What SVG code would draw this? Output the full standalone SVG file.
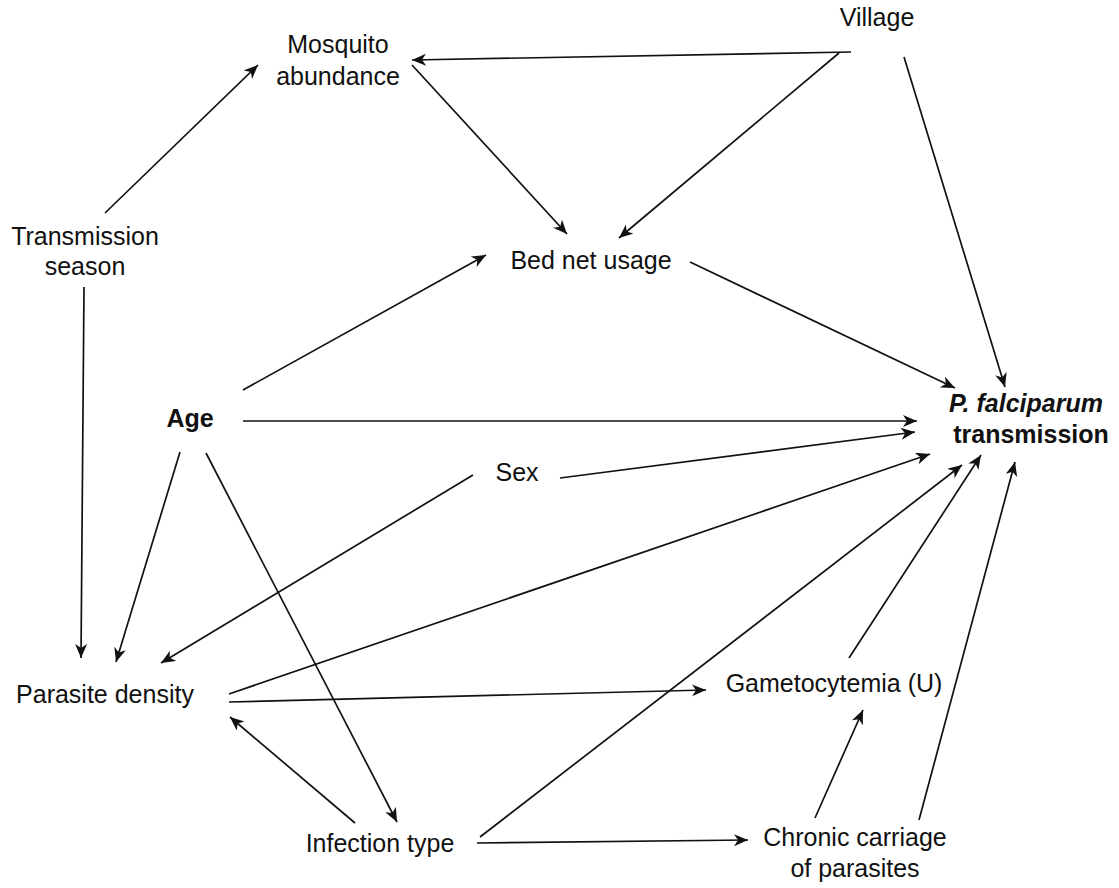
<svg xmlns="http://www.w3.org/2000/svg" width="1119" height="888" viewBox="0 0 1119 888">
  <style>
    .lbl { font-family: "Liberation Sans", Arial, Helvetica, sans-serif; font-size: 25px; fill: #111; text-anchor: middle; }
    .bold { font-weight: bold; }
    .ital { font-style: italic; }
    .edge { stroke: #111; stroke-width: 1.7; fill: none; marker-end: url(#arrow); }
  </style>
  <defs>
    <marker id="arrow" markerUnits="userSpaceOnUse" markerWidth="16" markerHeight="14" refX="14" refY="6" orient="auto">
      <path d="M0,0 L14,6 L0,12 L4,6 z" fill="#111"/>
    </marker>
  </defs>
  <rect width="1119" height="888" fill="#fff"/>

  <!-- connectors -->
  <g id="edges">
    <line class="edge" x1="105" y1="213" x2="258" y2="65"/>
    <line class="edge" x1="851" y1="52" x2="412" y2="60"/>
    <line class="edge" x1="412" y1="65" x2="567" y2="234"/>
    <line class="edge" x1="839" y1="53" x2="619" y2="238"/>
    <line class="edge" x1="904" y1="57" x2="1005" y2="387"/>
    <line class="edge" x1="690" y1="262" x2="955" y2="388"/>
    <line class="edge" x1="243" y1="390" x2="486" y2="255"/>
    <line class="edge" x1="243" y1="421" x2="917" y2="421"/>
    <line class="edge" x1="560" y1="478" x2="915" y2="432"/>
    <line class="edge" x1="229" y1="694" x2="930" y2="454"/>
    <line class="edge" x1="480" y1="837" x2="962" y2="465"/>
    <line class="edge" x1="849" y1="658" x2="981" y2="455"/>
    <line class="edge" x1="919" y1="820" x2="1015" y2="462"/>
    <line class="edge" x1="84" y1="287" x2="81" y2="658"/>
    <line class="edge" x1="180" y1="452" x2="116" y2="662"/>
    <line class="edge" x1="473" y1="475" x2="161" y2="663"/>
    <line class="edge" x1="229" y1="702" x2="706" y2="690"/>
    <line class="edge" x1="355" y1="823" x2="230" y2="717"/>
    <line class="edge" x1="206" y1="453" x2="397" y2="822"/>
    <line class="edge" x1="477" y1="843" x2="748" y2="840"/>
    <line class="edge" x1="815" y1="818" x2="863" y2="710"/>
  </g>

  <!-- nodes -->
  <g id="mosquito-abundance">
    <text class="lbl" x="338" y="53">Mosquito</text>
    <text class="lbl" x="338" y="85">abundance</text>
  </g>
  <g id="village">
    <text class="lbl" x="877" y="26">Village</text>
  </g>
  <g id="transmission-season">
    <text class="lbl" x="85" y="245">Transmission</text>
    <text class="lbl" x="85" y="275">season</text>
  </g>
  <g id="bed-net-usage">
    <text class="lbl" x="591" y="269">Bed net usage</text>
  </g>
  <g id="age">
    <text class="lbl bold" x="190" y="427">Age</text>
  </g>
  <g id="pf-transmission">
    <text class="lbl bold ital" x="1026" y="412">P. falciparum</text>
    <text class="lbl bold" x="1031" y="443">transmission</text>
  </g>
  <g id="sex">
    <text class="lbl" x="517" y="481">Sex</text>
  </g>
  <g id="parasite-density">
    <text class="lbl" x="105" y="703">Parasite density</text>
  </g>
  <g id="gametocytemia">
    <text class="lbl" x="834" y="692">Gametocytemia (U)</text>
  </g>
  <g id="infection-type">
    <text class="lbl" x="380" y="852">Infection type</text>
  </g>
  <g id="chronic-carriage">
    <text class="lbl" x="855" y="846">Chronic carriage</text>
    <text class="lbl" x="855" y="877">of parasites</text>
  </g>
</svg>
